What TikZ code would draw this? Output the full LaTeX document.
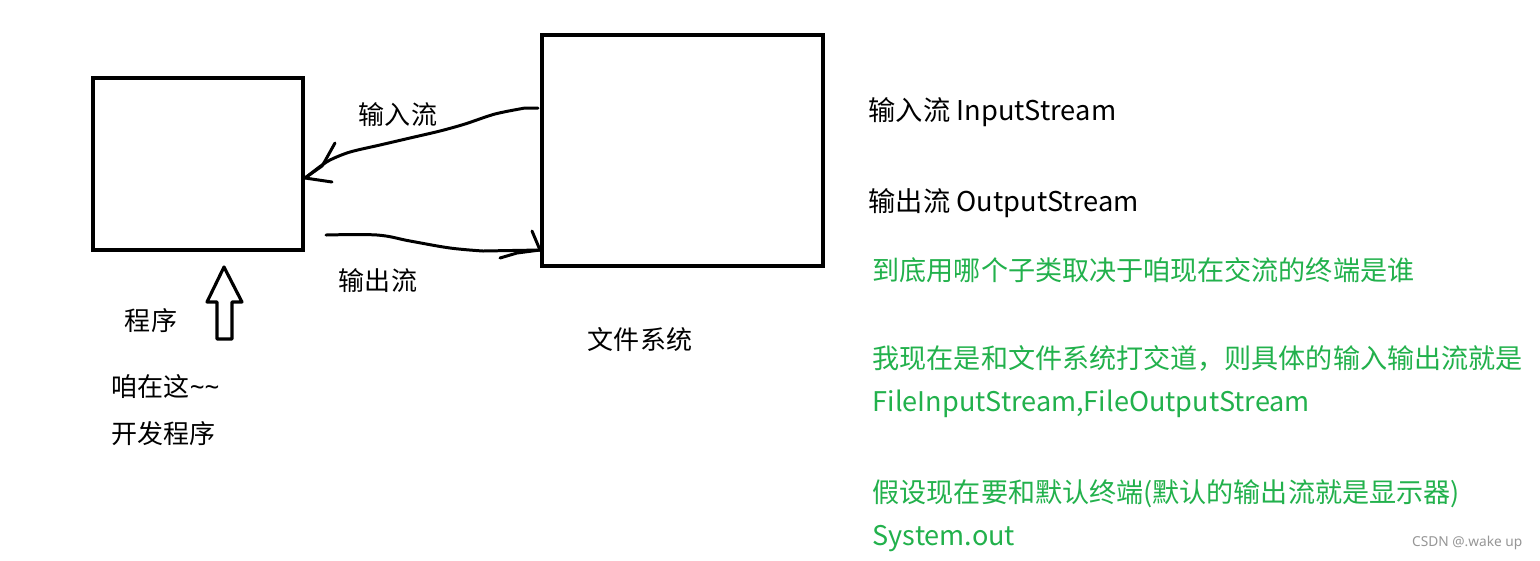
\documentclass[tikz,border=0pt]{standalone}
\usepackage{fontspec}
\setmainfont{Noto Sans CJK SC}
\newfontfamily\latinf{Noto Sans}
\definecolor{pgreen}{RGB}{34,177,76}
\definecolor{wm}{RGB}{150,150,150}
\begin{document}
\begin{tikzpicture}[x=0.01cm,y=-0.01cm,
  box/.style={draw=black,line width=1.2pt},
  hand/.style={draw=black,line width=0.85pt,line cap=round,line join=round},
  lab/.style={font=\fontsize{7.4pt}{9pt}\selectfont,inner sep=0pt},
  rtxt/.style={font=\fontsize{7.75pt}{9pt}\selectfont,inner sep=0pt,anchor=west},
  gtxt/.style={rtxt,font=\fontsize{7.7pt}{9pt}\selectfont,text=pgreen}]
\useasboundingbox (0,0) rectangle (1540,560);
\fill[white] (0,0) rectangle (1540,560);
% boxes
\draw[box] (93,78) rectangle (303,250);
\coordinate (progbox) at (198,164);
\draw[box] (542,35) rectangle (823,266);
\coordinate (fsbox) at (682,150);
% input arrow
\coordinate (inS) at (538,108);
\coordinate (inT) at (305,178);
\draw[hand] (inS) -- (525,108) plot[smooth,tension=0.5] coordinates {(525,108) (495,114) (465,124) (440,131) (410,138) (380,145) (350,152) (330,160) (318,168)} -- (inT);
\draw[hand] (inT) -- (322,166) -- (325,161) -- (335,143);
\draw[hand] (inT) -- (332,182);
% output arrow
\coordinate (outS) at (326,235);
\coordinate (outT) at (540,250);
\draw[hand] plot[smooth,tension=0.6] coordinates {(outS) (377,235) (410,241) (450,248) (483,251)} -- (outT);
\draw[hand] (outT) -- (532,231);
\draw[hand] (outT) -- (517,253) -- (500,258);
% hollow up arrow
\draw[line width=0.9pt,line join=round] (224,267) -- (242,302) -- (232,302) -- (232,339) -- (217,339) -- (217,302) -- (207,302) -- cycle;
% labels
\node[lab] (lin) at (398,115) {输入流};
\node[lab] (lout) at (378,281) {输出流};
\node[lab] (lprog) at (151,321) {程序};
\node[lab,anchor=west] (lhere) at (111,387) {咱在这{\latinf \char`\~\char`\~}};
\node[lab,anchor=west] (ldev) at (111,434) {开发程序};
\node[lab] (lfs) at (640,340) {文件系统};
% right texts
\node[rtxt] (t1) at (868,112) {输入流 InputStream};
\node[rtxt] (t2) at (868,203) {输出流 OutputStream};
\node[gtxt] (g1) at (872,270) {到底用哪个子类取决于咱现在交流的终端是谁};
\node[gtxt] (g2) at (872,358) {我现在是和文件系统打交道，则具体的输入输出流就是};
\node[gtxt] (g3) at (872,404) {FileInputStream,FileOutputStream};
\node[gtxt] (g4) at (872,494) {假设现在要和默认终端(默认的输出流就是显示器)};
\node[gtxt] (g5) at (872,539) {System.out};
\node[inner sep=0pt,anchor=east,text=wm,font=\fontsize{3.9pt}{5pt}\selectfont\latinf] (wmk) at (1523,543) {CSDN @.wake up};
\end{tikzpicture}
\end{document}
